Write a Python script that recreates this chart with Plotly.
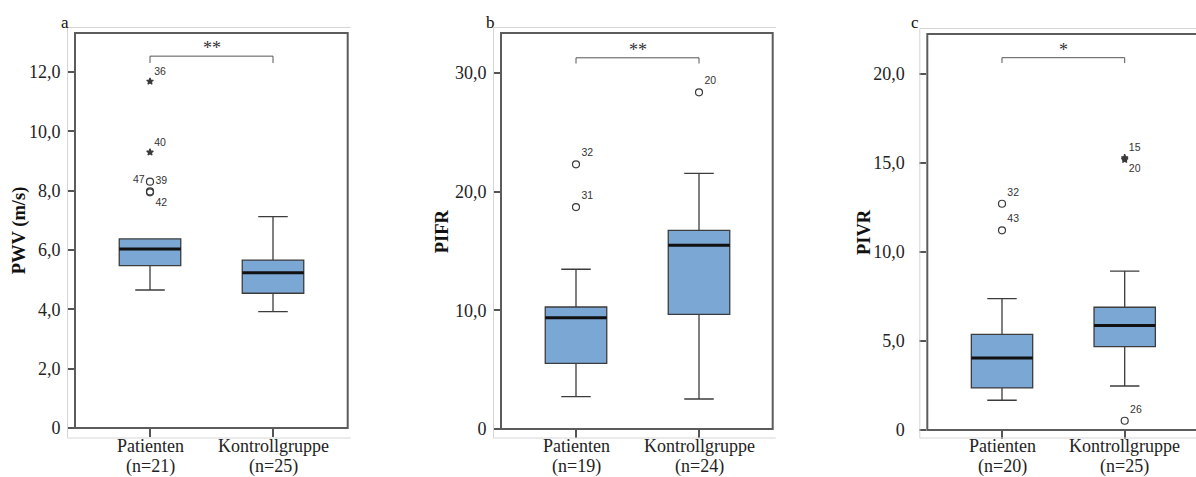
import plotly.graph_objects as go

W, H = 1196, 477

# ---------------- data ----------------
categories = ["Patienten", "Kontrollgruppe"]

# Panel a: PWV (m/s)
pwv_n = ["(n=21)", "(n=25)"]
pwv_q1 = [5.47, 4.54]
pwv_median = [6.03, 5.23]
pwv_q3 = [6.37, 5.66]
pwv_low = [4.65, 3.92]
pwv_high = [6.37, 7.12]
pwv_out_group = [0, 0, 0, 0, 0]
pwv_out_val = [11.68, 9.29, 8.30, 7.94, 7.97]
pwv_out_id = ["36", "40", "39", "42", "47"]
pwv_out_extreme = [True, True, False, False, False]
pwv_out_labelpos = ["top right", "top right", "middle right", "bottom right", "top left"]
pwv_ticks = [0, 2, 4, 6, 8, 10, 12]
pwv_ticktext = ["0", "2,0", "4,0", "6,0", "8,0", "10,0", "12,0"]

# Panel b: PIFR
pifr_n = ["(n=19)", "(n=24)"]
pifr_q1 = [5.53, 9.66]
pifr_median = [9.38, 15.48]
pifr_q3 = [10.28, 16.74]
pifr_low = [2.72, 2.53]
pifr_high = [13.46, 21.54]
pifr_out_group = [0, 0, 1]
pifr_out_val = [22.3, 18.7, 28.37]
pifr_out_id = ["32", "31", "20"]
pifr_out_extreme = [False, False, False]
pifr_out_labelpos = ["top right", "top right", "top right"]
pifr_ticks = [0, 10, 20, 30]
pifr_ticktext = ["0", "10,0", "20,0", "30,0"]

# Panel c: PIVR
pivr_n = ["(n=20)", "(n=25)"]
pivr_q1 = [2.36, 4.68]
pivr_median = [4.04, 5.86]
pivr_q3 = [5.37, 6.89]
pivr_low = [1.67, 2.47]
pivr_high = [7.37, 8.92]
pivr_out_group = [0, 0, 1, 1, 1]
pivr_out_val = [12.70, 11.21, 15.28, 15.18, 0.52]
pivr_out_id = ["32", "43", "15", "20", "26"]
pivr_out_extreme = [False, False, True, True, False]
pivr_out_labelpos = ["top right", "top right", "top right", "bottom right", "top right"]
pivr_ticks = [0, 5, 10, 15, 20]
pivr_ticktext = ["0", "5,0", "10,0", "15,0", "20,0"]

# significance brackets
sig_text = ["**", "**", "*"]
sig_top = [12.53, 31.28, 20.9]
sig_end = [12.30, 30.80, 20.6]

panel_letters = ["a", "b", "c"]
y_titles = ["PWV (m/s)", "PIFR", "PIVR"]

# ---------------- layout geometry (pixels) ----------------
frames = [(75, 33, 347.7, 428), (501, 33, 772.7, 429), (927.3, 34, 1199.7, 430)]
cat_px = [(150, 273), (576, 699), (1002, 1124.7)]
ymax = [13.31, 33.37, 22.23]
ytitle_dx = [-55.3, -58.7, -63.3]
letter_dx = [-10.5, -10.5, -12.3]
label_standoff = [3, 3, 11]
xlabel_line_y = [446.0, 466.0]   # vertical centres of the two category label lines

BOX_FILL = "#7ba7d5"
BOX_LINE = "#3c3c3c"
SERIF = "Liberation Serif"
SANS = "Liberation Sans"


def px(x):
    return min(x, W) / W


def py(y):
    return 1 - min(y, H) / H


panels = [
    dict(n=pwv_n, q1=pwv_q1, med=pwv_median, q3=pwv_q3, lo=pwv_low, hi=pwv_high,
         og=pwv_out_group, ov=pwv_out_val, oid=pwv_out_id, oex=pwv_out_extreme,
         opos=pwv_out_labelpos, tv=pwv_ticks, tt=pwv_ticktext),
    dict(n=pifr_n, q1=pifr_q1, med=pifr_median, q3=pifr_q3, lo=pifr_low, hi=pifr_high,
         og=pifr_out_group, ov=pifr_out_val, oid=pifr_out_id, oex=pifr_out_extreme,
         opos=pifr_out_labelpos, tv=pifr_ticks, tt=pifr_ticktext),
    dict(n=pivr_n, q1=pivr_q1, med=pivr_median, q3=pivr_q3, lo=pivr_low, hi=pivr_high,
         og=pivr_out_group, ov=pivr_out_val, oid=pivr_out_id, oex=pivr_out_extreme,
         opos=pivr_out_labelpos, tv=pivr_ticks, tt=pivr_ticktext),
]

fig = go.Figure()
shapes = []
annotations = []
BOXW = 0.5

for i, p in enumerate(panels):
    k = "" if i == 0 else str(i + 1)
    xa, ya = "x" + k, "y" + k
    left, top, right, bottom = frames[i]
    c0, c1 = cat_px[i]
    ppu = c1 - c0
    vis_right = min(right, W)
    xrange = [(left - c0) / ppu, (vis_right - c0) / ppu]
    pos = [0, 1]

    fig.add_trace(go.Box(
        x=pos, q1=p["q1"], median=p["med"], q3=p["q3"],
        lowerfence=p["lo"], upperfence=p["hi"],
        width=BOXW, whiskerwidth=0.48, fillcolor=BOX_FILL,
        line=dict(color=BOX_LINE, width=1.3), boxpoints=False,
        xaxis=xa, yaxis=ya, showlegend=False, hoverinfo="skip"))

    for j in range(2):
        fig.add_trace(go.Scatter(
            x=[pos[j] - BOXW / 2, pos[j] + BOXW / 2], y=[p["med"][j]] * 2,
            mode="lines", line=dict(color="#111111", width=3),
            xaxis=xa, yaxis=ya, showlegend=False, hoverinfo="skip"))

    for ex in (False, True):
        idx = [m for m in range(len(p["ov"])) if p["oex"][m] == ex]
        if not idx:
            continue
        fig.add_trace(go.Scatter(
            x=[pos[p["og"][m]] for m in idx], y=[p["ov"][m] for m in idx],
            text=[p["oid"][m] for m in idx],
            textposition=[p["opos"][m] for m in idx],
            mode="markers+text",
            marker=dict(symbol="star" if ex else "circle-open", size=5 if ex else 7,
                        color="#3a3a3a", line=dict(color="#3a3a3a", width=1.2)),
            textfont=dict(family=SANS, size=10.5, color="#333333"),
            xaxis=xa, yaxis=ya, showlegend=False, hoverinfo="skip"))

    # significance bracket
    fig.add_trace(go.Scatter(
        x=[0, 0, 1, 1], y=[sig_end[i], sig_top[i], sig_top[i], sig_end[i]],
        mode="lines", line=dict(color="#555555", width=1),
        xaxis=xa, yaxis=ya, showlegend=False, hoverinfo="skip"))
    annotations.append(dict(x=0.5, y=sig_top[i], xref=xa, yref=ya, text=sig_text[i],
                            showarrow=False, yanchor="bottom", yshift=-4,
                            font=dict(family=SERIF, size=18, color="#333333")))

    # category labels (two lines) under the ticks
    for j in range(2):
        for line_txt, yc in zip([categories[j], p["n"][j]], xlabel_line_y):
            annotations.append(dict(x=pos[j], y=py(yc), xref=xa, yref="paper",
                                    text=line_txt, showarrow=False,
                                    xanchor="center", yanchor="middle",
                                    font=dict(family=SERIF, size=18, color="#222222")))

    axis_x = dict(domain=[left / W, vis_right / W], range=xrange, anchor=ya,
                  showgrid=False, zeroline=False, showline=False, automargin=False,
                  tickvals=pos, showticklabels=False,
                  ticks="outside", ticklen=8, tickwidth=1.5, tickcolor="#555555",
                  fixedrange=True)
    axis_y = dict(domain=[1 - bottom / H, 1 - top / H], range=[0, ymax[i]], anchor=xa,
                  showgrid=False, zeroline=False, showline=False, automargin=False,
                  tickvals=p["tv"], ticktext=p["tt"],
                  ticks="outside", ticklen=7, tickwidth=1.5, tickcolor="#555555",
                  ticklabelstandoff=label_standoff[i],
                  tickfont=dict(family=SERIF, size=18, color="#222222"),
                  fixedrange=True)
    fig.update_layout(**{"xaxis" + k: axis_x, "yaxis" + k: axis_y})

    # outer light frame (top, left, bottom)
    ol, ot, ob, orr = left - 7.5, top - 5.5, 438, right + 3
    shapes.append(dict(type="path", xref="paper", yref="paper",
                       path=f"M {px(orr)} {py(ot)} L {px(ol)} {py(ot)} "
                            f"L {px(ol)} {py(ob)} L {px(orr)} {py(ob)}",
                       line=dict(color="#d6d6d6", width=1)))
    # inner dark frame (right side only if inside the picture)
    if right <= W:
        shapes.append(dict(type="rect", xref="paper", yref="paper",
                           x0=px(left), x1=px(right), y0=py(bottom), y1=py(top),
                           line=dict(color="#5c5c5c", width=2), layer="above"))
    else:
        shapes.append(dict(type="path", xref="paper", yref="paper",
                           path=f"M {px(right)} {py(top)} L {px(left)} {py(top)} "
                                f"L {px(left)} {py(bottom)} L {px(right)} {py(bottom)}",
                           line=dict(color="#5c5c5c", width=2), layer="above"))

    # y title
    annotations.append(dict(x=(left + ytitle_dx[i]) / W, y=1 - (top + bottom) / 2 / H,
                            xref="paper", yref="paper", text=f"<b>{y_titles[i]}</b>",
                            textangle=-90, showarrow=False, xanchor="center", yanchor="middle",
                            font=dict(family=SERIF, size=18.5, color="#111111")))
    # panel letter
    annotations.append(dict(x=(left + letter_dx[i]) / W, y=1 - 23 / H,
                            xref="paper", yref="paper", text=panel_letters[i],
                            showarrow=False, xanchor="center", yanchor="middle",
                            font=dict(family=SERIF, size=17, color="#111111")))

fig.update_layout(width=W, height=H, autosize=False,
                  margin=dict(l=0, r=0, t=0, b=0),
                  paper_bgcolor="white", plot_bgcolor="white",
                  shapes=shapes, annotations=annotations, showlegend=False)

fig.write_html("out.html")
